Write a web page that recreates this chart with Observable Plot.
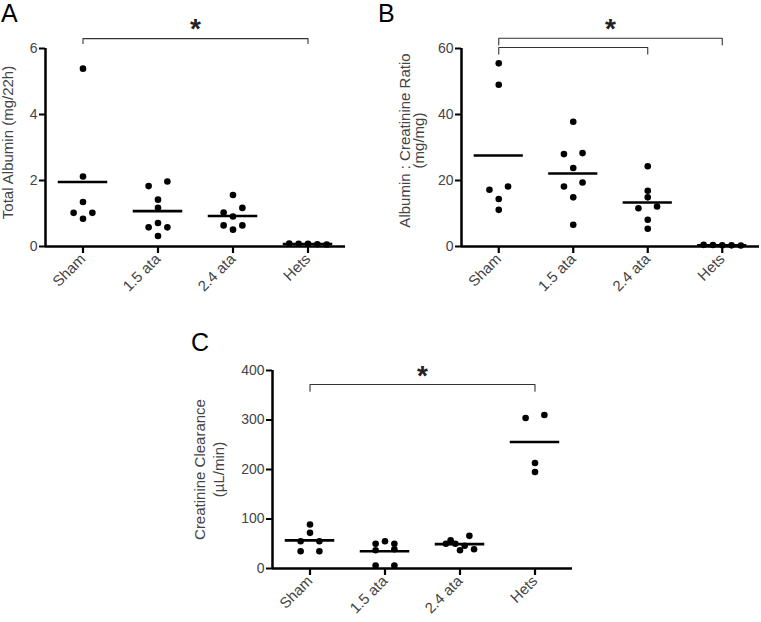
<!DOCTYPE html>
<html><head><meta charset="utf-8">
<script src="https://cdn.jsdelivr.net/npm/d3@7"></script>
<script src="https://cdn.jsdelivr.net/npm/@observablehq/plot@0.6"></script>
<style>
body{margin:0;background:#fff;}
#wrap{position:relative;width:761px;height:622px;overflow:hidden;}
.panel{position:absolute;}
.letter{position:absolute;font-family:"Liberation Sans",Arial,sans-serif;font-size:25px;line-height:1;color:#000;}
</style></head><body><div id="wrap"></div>
<script>
// Categories
const groups = ["Sham", "1.5 ata", "2.4 ata", "Hets"];

// Panel A: Total Albumin (mg/22h)
const albSham = [5.39, 2.12, 1.35, 1.02, 1.02, 0.84];
const alb15   = [1.97, 1.83, 1.42, 1.17, 0.71, 0.58, 0.58, 0.32];
const alb24   = [1.56, 1.17, 1.03, 0.91, 0.64, 0.64, 0.51];
const albHets = [0.08, 0.06, 0.09, 0.07, 0.08];
const albTicks = [0, 2, 4, 6];

// Panel B: Albumin : Creatinine Ratio (mg/mg)
const acrSham = [55.5, 49.0, 18.2, 17.2, 14.4, 11.1];
const acr15   = [37.8, 28.3, 28.0, 23.8, 19.4, 18.2, 14.9, 6.6];
const acr24   = [24.3, 16.9, 14.9, 12.1, 11.6, 8.1, 5.4];
const acrHets = [0.5, 0.3, 0.4, 0.45, 0.35];
const acrTicks = [0, 20, 40, 60];

// Panel C: Creatinine Clearance (uL/min)
const ccSham = [89, 72, 55, 55, 35, 35];
const cc15   = [55, 50, 50, 39, 37, 6, 6];
const cc24   = [66, 57, 50, 50, 46, 39, 37];
const ccHets = [310, 304, 213, 195];
const ccTicks = [0, 100, 200, 300, 400];

// Significance comparisons [from group index, to group index]
const sigA = [[0, 3]];
const sigB = [[0, 3], [0, 2]];
const sigC = [[0, 3]];

const FONT = '"Liberation Sans", Arial, sans-serif';

// scatter-dot layout: points with nearly equal values are spread side by side
function layout(series, pxPerUnit) {
  const out = [];
  series.forEach((vals, g) => {
    const sorted = vals.map(v => ({g, v})).sort((a, b) => b.v - a.v);
    const rows = [];
    for (const p of sorted) {
      const r = rows[rows.length - 1];
      if (r && (r[0].v - p.v) * pxPerUnit < 6) r.push(p); else rows.push([p]);
    }
    for (const r of rows) {
      const n = r.length;
      let slots;
      if (n === 1) slots = [0];
      else if (n === 2) slots = [1, -1];
      else if (n === 3) slots = (r[0].v - r[1].v) > (r[1].v - r[2].v) ? [0, -1, 1] : [-1, 1, 0];
      else slots = r.map((_, i) => i - (n - 1) / 2);
      r.forEach((p, i) => { p.slot = slots[i]; out.push(p); });
    }
  });
  return out;
}

function panel(cfg) {
  const {series, ymax, ticks, label, labelDx, labelDy, lineHeight, sig, sigY, starY,
         left, top, width, height, mL, mR, mT, mB} = cfg;
  const ppu = (height - mT - mB) / ymax;
  const pts = layout(series, ppu);
  const means = series.map((vals, g) => ({g, m: d3.mean(vals)}));
  const brackets = [];
  sig.forEach(([a, b], k) => {
    const yTop = sigY[k][0], yEnd = sigY[k][1];
    brackets.push([{x: a, y: yEnd}, {x: a, y: yTop}, {x: b, y: yTop}, {x: b, y: yEnd}]);
  });
  const stars = [{x: (sig[0][0] + sig[0][1]) / 2, y: starY}];
  const svg = Plot.plot({
    width, height, marginLeft: mL, marginRight: mR, marginTop: mT, marginBottom: mB,
    style: {fontFamily: FONT, fontSize: "14px", color: "#444", background: "white", overflow: "visible"},
    x: {domain: [-0.5, 3.5], axis: null},
    y: {domain: [0, ymax], axis: null},
    marks: [
      Plot.axisY(ticks, {tickSize: 6, tickPadding: 2, stroke: "black", strokeWidth: 2, fill: "#444", fontSize: 14, label: null}),
      Plot.axisX([0, 1, 2, 3], {tickFormat: i => groups[i], tickRotate: -45, tickSize: 7, tickPadding: 3,
        stroke: "black", strokeWidth: 2.2, fill: "#444", fontSize: 15, label: null}),
      Plot.ruleX([-0.5], {stroke: "black", strokeWidth: 2.5}),
      Plot.ruleY([0], {stroke: "black", strokeWidth: 2.5}),
      ...brackets.map(b => Plot.line(b, {x: "x", y: "y", stroke: "#333", strokeWidth: 1.1})),
      Plot.text(stars, {x: "x", y: "y", text: () => "*", fontSize: 28, fontWeight: "bold", fill: "#222", lineAnchor: "middle"}),
      Plot.dot(pts, {x: d => d.g + d.slot * 0.125, y: "v", r: 3.3, fill: "black", stroke: null}),
      Plot.ruleY(means, {y: "m", x1: d => d.g - 0.33, x2: d => d.g + 0.33, stroke: "black", strokeWidth: 2.6}),
      Plot.text([label], {frameAnchor: "left", rotate: -90, dx: labelDx, dy: labelDy, fill: "#444",
        fontSize: 15, lineHeight: lineHeight, lineAnchor: "middle", textAnchor: "middle", text: d => d})
    ]
  });
  svg.classList.add("panel");
  svg.style.left = left + "px";
  svg.style.top = top + "px";
  document.getElementById("wrap").appendChild(svg);
}

panel({series: [albSham, alb15, alb24, albHets], ymax: 6, ticks: albTicks,
  label: "Total Albumin (mg/22h)", labelDx: -37, labelDy: -5, lineHeight: 1,
  sig: sigA, sigY: [[6.30, 6.15]], starY: 6.6,
  left: 0, top: 0, width: 360, height: 300, mL: 45, mR: 15, mT: 48, mB: 54});

panel({series: [acrSham, acr15, acr24, acrHets], ymax: 60, ticks: acrTicks,
  label: "Albumin : Creatinine Ratio\n(mg/mg)", labelDx: -49, labelDy: -7, lineHeight: 0.9,
  sig: sigB, sigY: [[63.1, 61.1], [60.3, 58.3]], starY: 65.8,
  left: 380, top: 0, width: 381, height: 300, mL: 81, mR: 2, mT: 48, mB: 54});

panel({series: [ccSham, cc15, cc24, ccHets], ymax: 400, ticks: ccTicks,
  label: "Creatinine Clearance\n(\u00b5L/min)", labelDx: -64, labelDy: 0, lineHeight: 1.25,
  sig: sigC, sigY: [[371.6, 358]], starY: 388,
  left: 180, top: 300, width: 420, height: 322, mL: 92, mR: 28, mT: 70, mB: 54});

// Panel letters
[["A", 1, 1], ["B", 378, 1], ["C", 191, 330]].forEach(([t, x, y]) => {
  const d = document.createElement("div");
  d.className = "letter"; d.textContent = t;
  d.style.left = x + "px"; d.style.top = y + "px";
  document.getElementById("wrap").appendChild(d);
});
</script>
</body></html>
